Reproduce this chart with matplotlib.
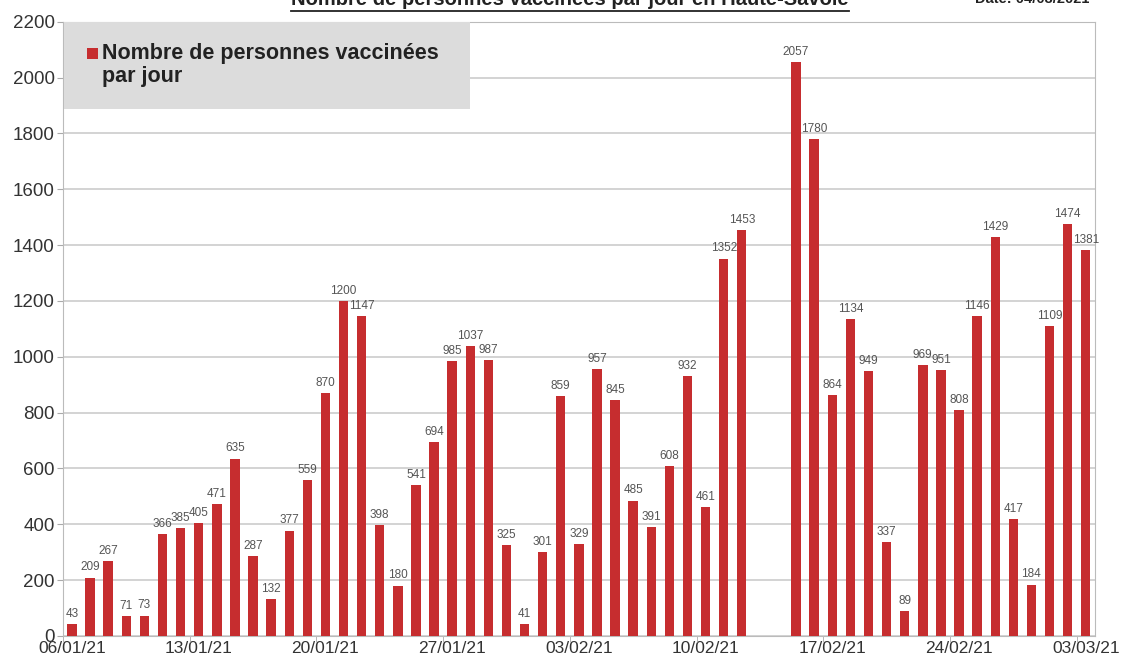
import numpy as np
import pandas as pd
import matplotlib
matplotlib.use("Agg")
import matplotlib.pyplot as plt
from matplotlib.lines import Line2D
from matplotlib.patches import Rectangle

plt.rcParams['font.family'] = ['Liberation Sans', 'DejaVu Sans']

# daily values from 06/01/21 to 03/03/21, nan = no data (13/02, 14/02)
days = pd.date_range("2021-01-06", "2021-03-03", freq="D")
vaccines = [43, 209, 267, 71, 73, 366, 385, 405, 471, 635,
            287, 132, 377, 559, 870, 1200, 1147, 398, 180, 541,
            694, 985, 1037, 987, 325, 41, 301, 859, 329, 957,
            845, 485, 391, 608, 932, 461, 1352, 1453, np.nan, np.nan,
            2057, 1780, 864, 1134, 949, 337, 89, 969, 951, 808,
            1146, 1429, 417, 184, 1109, 1474, 1381]
title = "Nombre de personnes vaccinées par jour en Haute-Savoie"
date_txt = "Date: 04/03/2021"
legend_label = "Nombre de personnes vaccinées\npar jour"

red = "#c62d2f"
grid = "#cccccc"
W, H = 1124, 661

fig = plt.figure(figsize=(W / 100, H / 100), dpi=100)
ax = fig.add_axes([0.056, 0.038, 0.918, 0.929])

vals = np.array(vaccines, dtype=float)
x = np.arange(len(days))
ok = ~np.isnan(vals)
bars = ax.bar(x[ok], vals[ok], width=0.52, color=red, zorder=3)
ax.bar_label(bars, labels=[f"{int(v)}" for v in vals[ok]], padding=3,
             fontsize=8.5, color="#555555")

ax.set_xlim(-0.5, len(days) - 0.5)
ax.set_ylim(0, 2200)
ax.set_yticks(range(0, 2201, 200))
ax.yaxis.grid(True, color=grid, lw=1.2, zorder=0)

week = x[::7]
ax.set_xticks(week)
ax.set_xticklabels([d.strftime("%d/%m/%y") for d in days[::7]])
ax.set_xticks(week - 0.5, minor=True)
ax.tick_params(axis="x", which="major", length=0, pad=4, labelsize=12.5,
               labelcolor="#333333")
ax.tick_params(axis="x", which="minor", length=4, color="#aaaaaa")
ax.tick_params(axis="y", length=4, color="#aaaaaa", labelsize=13.5,
               labelcolor="#333333", pad=2)
for s in ax.spines.values():
    s.set_color("#bbbbbb")

# legend box drawn by hand (square sits on the first text line)
def px(xp, yp):
    return xp / W, 1 - yp / H

bx, by = px(64, 109)
fig.add_artist(Rectangle((bx, by), 406 / W, 87 / H, transform=fig.transFigure,
                         facecolor="#dcdcdc", edgecolor="none", zorder=5))
sx, sy = px(87, 59)
fig.add_artist(Rectangle((sx, sy), 11 / W, 11 / H, transform=fig.transFigure,
                         facecolor=red, edgecolor="none", zorder=6))
tx, ty = px(102, 43)
fig.text(tx, ty, legend_label, ha="left", va="top", fontsize=15.5,
         weight="bold", color="#222222", linespacing=1.1, zorder=6)

t1 = fig.text(0.507, 0.993, title, ha="center", va="baseline",
              fontsize=14.5, weight="bold", color="#222222")
fig.text(0.918, 0.995, date_txt, ha="center", va="baseline",
         fontsize=10.5, weight="bold", color="#222222")

# underline the title
fig.canvas.draw()
bb = t1.get_window_extent()
yline = bb.y0 - 2
fig.add_artist(Line2D([bb.x0, bb.x1], [yline, yline], transform=None,
                      color="#222222", lw=1.3))

fig.savefig("out.png", dpi=100)
